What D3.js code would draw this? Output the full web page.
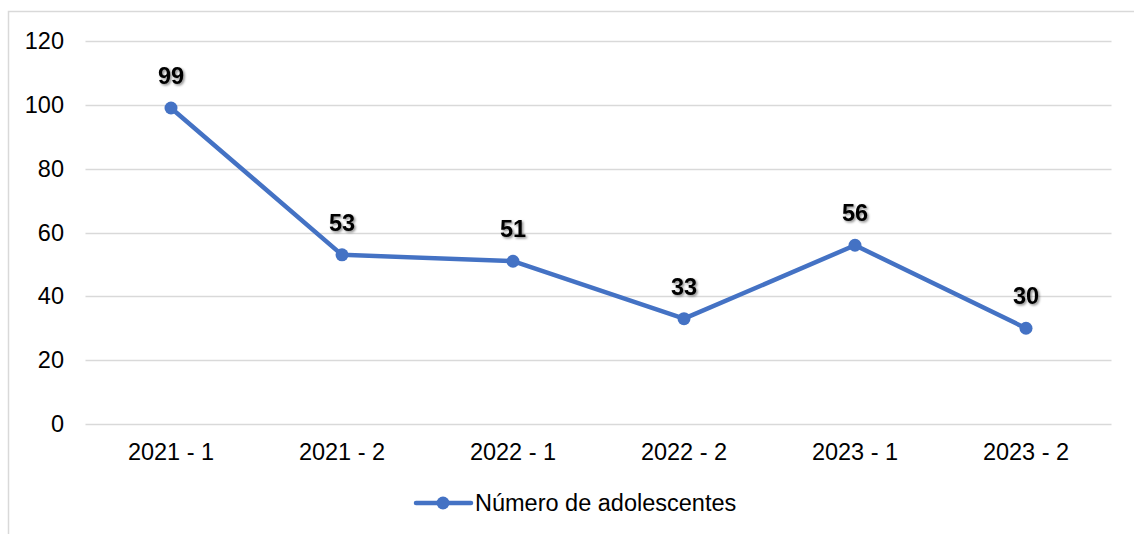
<!DOCTYPE html>
<html>
<head>
<meta charset="utf-8">
<script src="https://cdn.jsdelivr.net/npm/d3@7"></script>
<style>
  html, body { margin: 0; padding: 0; background: #fff; }
  svg { display: block; font-family: "Liberation Sans", Arial, sans-serif; }
</style>
</head>
<body>
<svg id="chart" width="1134" height="534"></svg>
<script>
// Semesters and number of adolescents per semester
const periods = ["2021 - 1", "2021 - 2", "2022 - 1", "2022 - 2", "2023 - 1", "2023 - 2"];
const adolescents = [99, 53, 51, 33, 56, 30];
const yTicks = [0, 20, 40, 60, 80, 100, 120];
const seriesName = "Número de adolescentes";

const svg = d3.select("#chart");
const color = "#4472C4";
const fontSize = 23.5;

const defs = svg.append("defs");
const shadow = defs.append("filter").attr("id", "lblShadow")
  .attr("x", "-20%").attr("y", "-20%").attr("width", "150%").attr("height", "150%");
shadow.append("feDropShadow").attr("dx", 1.5).attr("dy", 1.5)
  .attr("stdDeviation", 1).attr("flood-color", "#000").attr("flood-opacity", 0.45);

// chart area border
svg.append("rect").attr("x", 8.5).attr("y", 11.5).attr("width", 1140).attr("height", 540)
  .attr("fill", "none").attr("stroke", "#d9d9d9").attr("stroke-width", 1.5);

const x = d3.scaleBand().domain(periods).range([85.5, 1111.5]);
const y = d3.scaleLinear().domain([0, 120]).range([424, 41]);

// gridlines
svg.append("g").selectAll("line").data(yTicks).join("line")
  .attr("x1", 85.5).attr("x2", 1111.5)
  .attr("y1", d => Math.round(y(d)) + 0.5).attr("y2", d => Math.round(y(d)) + 0.5)
  .attr("stroke", "#d9d9d9").attr("stroke-width", 1.5);

// y axis labels
const yAxis = svg.append("g").attr("transform", "translate(64,0)")
  .call(d3.axisLeft(y).tickValues(yTicks).tickSize(0).tickPadding(0));
yAxis.select(".domain").remove();
yAxis.selectAll("text").attr("font-size", fontSize).attr("fill", "#000")
  .attr("font-family", "Liberation Sans, Arial, sans-serif");

// x axis labels
const xAxis = svg.append("g").attr("transform", "translate(0,443)")
  .call(d3.axisBottom(x).tickSize(0).tickPadding(0));
xAxis.select(".domain").remove();
xAxis.selectAll("text").attr("font-size", fontSize).attr("fill", "#000")
  .attr("font-family", "Liberation Sans, Arial, sans-serif");

const cx = d => x(d) + x.bandwidth() / 2;
const pts = periods.map((p, i) => ({ p, v: adolescents[i] }));

// line
svg.append("path").datum(pts)
  .attr("d", d3.line().x(d => cx(d.p)).y(d => y(d.v)))
  .attr("fill", "none").attr("stroke", color).attr("stroke-width", 4.5)
  .attr("stroke-linejoin", "round");

// markers
svg.append("g").selectAll("circle").data(pts).join("circle")
  .attr("cx", d => cx(d.p)).attr("cy", d => y(d.v)).attr("r", 6.5)
  .attr("fill", color);

// value labels
svg.append("g").selectAll("text").data(pts).join("text")
  .attr("x", d => cx(d.p)).attr("y", d => y(d.v) - 24)
  .attr("text-anchor", "middle").attr("font-size", fontSize).attr("font-weight", "bold")
  .attr("fill", "#000").attr("filter", "url(#lblShadow)")
  .text(d => d.v);

// legend
const lg = svg.append("g").attr("transform", "translate(416,503)");
lg.append("line").attr("x1", 0).attr("x2", 55).attr("y1", 0).attr("y2", 0)
  .attr("stroke", color).attr("stroke-width", 4.5).attr("stroke-linecap", "round");
lg.append("circle").attr("cx", 27).attr("cy", 0).attr("r", 6.5).attr("fill", color);
lg.append("text").attr("x", 59).attr("y", 0).attr("dy", "0.35em")
  .attr("font-size", fontSize).attr("fill", "#000").text(seriesName);
</script>
</body>
</html>
